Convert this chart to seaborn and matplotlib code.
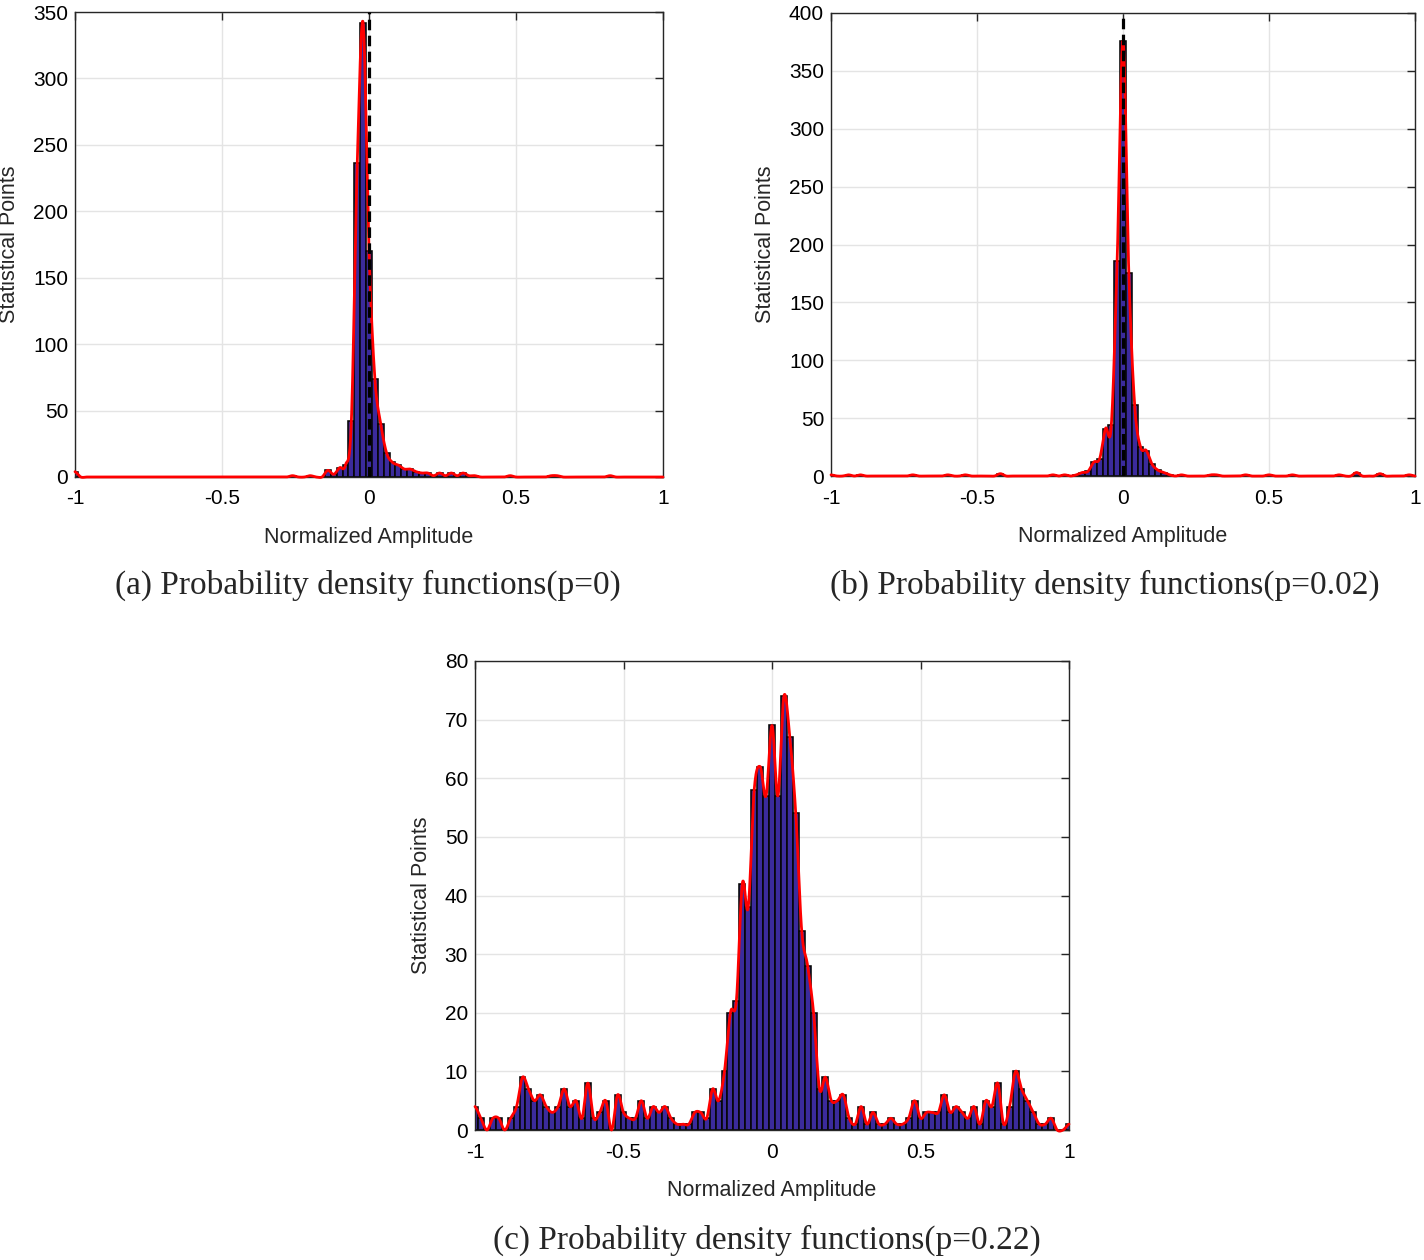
import numpy as np
import pandas as pd
import matplotlib
matplotlib.use("Agg")
import matplotlib.pyplot as plt
import seaborn as sns

# ---------------- data ----------------
bin_centers = np.round(np.linspace(-1.0, 1.0, 101), 2)

counts_a = [4, 0, 0, 0, 0, 0, 0, 0, 0, 0,
            0, 0, 0, 0, 0, 0, 0, 0, 0, 0,
            0, 0, 0, 0, 0, 0, 0, 0, 0, 0,
            0, 0, 0, 0, 0, 0, 0, 1, 0, 0,
            1, 0, 0, 5, 2, 7, 9, 42, 236, 342,
            170, 74, 40, 18, 11, 9, 6, 6, 4, 3,
            3, 1, 3, 1, 3, 1, 3, 1, 1, 0,
            0, 0, 0, 0, 1, 0, 0, 0, 0, 0,
            0, 1, 1, 0, 0, 0, 0, 0, 0, 0,
            0, 1, 0, 0, 0, 0, 0, 0, 0, 0,
            0]

counts_b = [1, 0, 0, 1, 0, 1, 0, 0, 0, 0,
            0, 0, 0, 0, 1, 0, 0, 0, 0, 0,
            1, 0, 0, 1, 0, 0, 0, 0, 0, 2,
            0, 0, 0, 0, 0, 0, 0, 0, 1, 0,
            1, 0, 1, 3, 4, 12, 15, 41, 44, 186,
            376, 175, 61, 25, 22, 10, 5, 3, 1, 0,
            1, 0, 0, 0, 0, 1, 1, 0, 0, 0,
            0, 1, 0, 0, 0, 1, 0, 0, 0, 1,
            0, 0, 0, 0, 0, 0, 0, 1, 0, 0,
            3, 0, 0, 0, 2, 0, 0, 0, 0, 1,
            0]

counts_c = [4, 2, 0, 2, 2, 0, 2, 4, 9, 7,
            5, 6, 4, 3, 4, 7, 4, 5, 2, 8,
            2, 3, 5, 0, 6, 3, 2, 2, 5, 2,
            4, 3, 4, 2, 1, 1, 1, 3, 3, 2,
            7, 5, 10, 20, 22, 42, 38, 58, 62, 57,
            69, 57, 74, 67, 54, 34, 28, 20, 7, 9,
            5, 5, 6, 2, 1, 4, 1, 3, 1, 1,
            2, 1, 1, 2, 5, 2, 3, 3, 3, 6,
            3, 4, 3, 2, 4, 1, 5, 4, 8, 1,
            4, 10, 7, 5, 3, 1, 1, 2, 0, 0,
            1]

x_ticks = [-1, -0.5, 0, 0.5, 1]
x_tick_labels = ["-1", "-0.5", "0", "0.5", "1"]
y_ticks_a = list(range(0, 351, 50))
y_ticks_b = list(range(0, 401, 50))
y_ticks_c = list(range(0, 81, 10))

captions = ["(a) Probability density functions(p=0)",
            "(b) Probability density functions(p=0.02)",
            "(c) Probability density functions(p=0.22)"]
x_label = "Normalized Amplitude"
y_label = "Statistical Points"

# ---------------- style ----------------
sns.set_style("white")
plt.rcParams["font.family"] = ["Liberation Sans", "DejaVu Sans"]
plt.rcParams["axes.unicode_minus"] = False

BAR_COLOR = "#3b2b9c"
W, H = 1424, 1260
fig = plt.figure(figsize=(W / 100, H / 100), dpi=100)


def smooth_curve(x, y, n_sub=20):
    """Catmull-Rom curve through the bar tops."""
    x = np.asarray(x, float)
    y = np.asarray(y, float)
    n = len(x)
    yp = np.concatenate([[y[0]], y, [y[-1]]])
    xs, ys = [], []
    t = np.linspace(0, 1, n_sub, endpoint=False)
    for i in range(n - 1):
        p0, p1, p2, p3 = yp[i], yp[i + 1], yp[i + 2], yp[i + 3]
        m1 = (p2 - p0) / 2.0
        m2 = (p3 - p1) / 2.0
        h00 = 2 * t ** 3 - 3 * t ** 2 + 1
        h10 = t ** 3 - 2 * t ** 2 + t
        h01 = -2 * t ** 3 + 3 * t ** 2
        h11 = t ** 3 - t ** 2
        ys.append(h00 * p1 + h10 * m1 + h01 * p2 + h11 * m2)
        xs.append(x[i] + t * (x[i + 1] - x[i]))
    xs.append([x[-1]])
    ys.append([y[-1]])
    return np.concatenate(xs), np.concatenate(ys)


def panel(rect, counts, yticks, dashed):
    ax = fig.add_axes(rect)
    df = pd.DataFrame({"amp": bin_centers, "n": np.asarray(counts, float)})
    edges = list(np.linspace(-1.01, 1.01, 102))
    sns.histplot(data=df, x="amp", weights="n", bins=edges, ax=ax,
                 color=BAR_COLOR, alpha=1.0, edgecolor="#050505",
                 linewidth=1.15, zorder=2)
    xf, yf = smooth_curve(bin_centers, counts)
    ax.plot(xf, yf, color="#ff0000", lw=2.0, zorder=3, clip_on=False)
    if dashed:
        ax.axvline(0, color="black", lw=2.3, ls=(0, (3.3, 1.7)), zorder=4)
    ax.set_xlim(-1, 1)
    ax.set_ylim(yticks[0], yticks[-1])
    ax.set_xticks(x_ticks)
    ax.set_xticklabels(x_tick_labels)
    ax.set_yticks(yticks)
    ax.grid(True, color="#e4e4e4", lw=1.0, zorder=0)
    ax.set_axisbelow(True)
    for s in ax.spines.values():
        s.set_color("#262626")
        s.set_linewidth(1.0)
        s.set_visible(True)
    ax.tick_params(direction="in", length=6, width=1.0, top=True, right=True,
                   labelsize=15, colors="#262626", labelcolor="black")
    ax.tick_params(axis="x", pad=9)
    ax.tick_params(axis="y", pad=5)
    ax.set_xlabel(x_label, fontsize=15.5, labelpad=13)
    ax.set_ylabel(y_label, fontsize=15.5, labelpad=9)
    return ax


panel([75 / W, 1 - 477 / H, 588 / W, 465 / H], counts_a, y_ticks_a, True)
panel([831 / W, 1 - 476 / H, 584 / W, 463 / H], counts_b, y_ticks_b, True)
panel([475 / W, 1 - 1130 / H, 594 / W, 469 / H], counts_c, y_ticks_c, False)

serif = ["Liberation Serif", "DejaVu Serif"]
fig.text(368 / W, 1 - 585 / H, captions[0], ha="center", va="center",
         fontsize=24, family=serif)
fig.text(1105 / W, 1 - 585 / H, captions[1], ha="center", va="center",
         fontsize=24, family=serif)
fig.text(767 / W, 1 - 1240 / H, captions[2], ha="center", va="center",
         fontsize=24, family=serif)

fig.savefig("out.png", dpi=100)
